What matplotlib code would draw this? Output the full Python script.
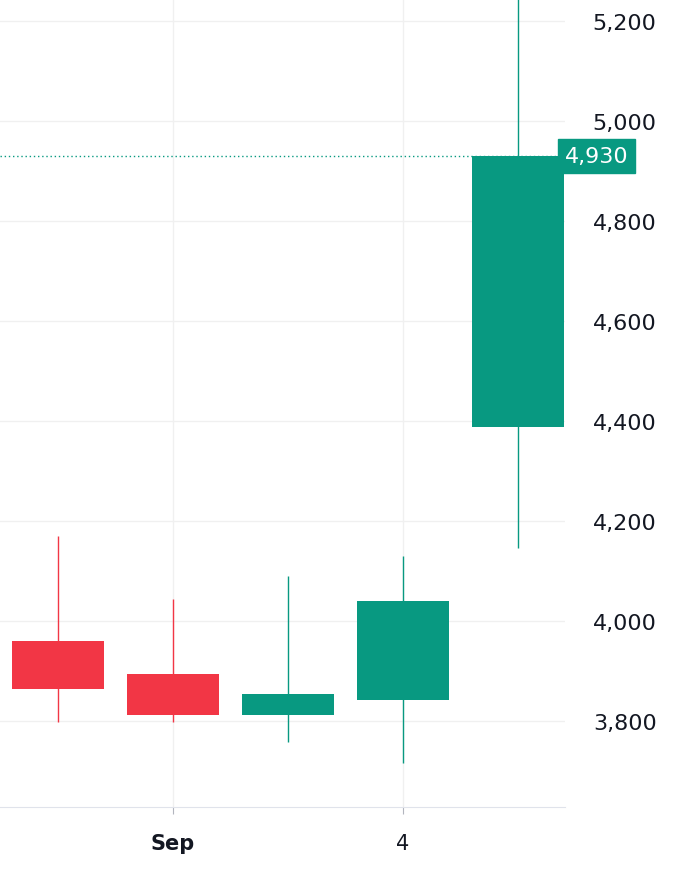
import matplotlib
matplotlib.use("Agg")
import matplotlib.pyplot as plt

opens  = [3960, 3894, 3812, 3842, 4388]
closes = [3864, 3812, 3854, 4040, 4930]
highs  = [4170, 4044, 4090, 4130, 5260]
lows   = [3798, 3798, 3758, 3716, 4146]
xticks = [1, 3]
xticklabels = ["Sep", "4"]
yticks = [3800, 4000, 4200, 4400, 4600, 4800, 5000, 5200]
last_price = 4930

UP, DOWN = "#089981", "#F23645"
fig = plt.figure(figsize=(6.95, 8.7), dpi=100)
ax = fig.add_axes([0, 870-808 and 62/870, 565/695, 808/870])
ax.set_xlim(-0.5, 4.41)
ax.set_ylim(3628, 5244)
for i, (o, c, h, l) in enumerate(zip(opens, closes, highs, lows)):
    col = UP if c >= o else DOWN
    ax.vlines(i, l, h, color=col, lw=1, zorder=2)
    ax.bar(i, abs(c-o), bottom=min(o, c), width=0.8, color=col, zorder=3)
for y in yticks:
    ax.axhline(y, color="#f0f0f0", lw=1, zorder=0)
for x in xticks:
    ax.axvline(x, color="#f0f0f0", lw=1, zorder=0)
ax.axhline(last_price, color=UP, lw=1, ls=(0, (1, 2)), zorder=1)
for s in ["top", "left", "right"]:
    ax.spines[s].set_visible(False)
ax.spines["bottom"].set_color("#e0e3eb")
ax.set_xticks(xticks)
ax.set_xticklabels(xticklabels, fontsize=15, color="#131722")
ax.get_xticklabels()[0].set_fontweight("bold")
ax.tick_params(axis="x", length=5, color="#b2b5be", pad=14)
ax.yaxis.tick_right()
ax.set_yticks(yticks)
ax.set_yticklabels([f"{v:,}" for v in yticks], fontsize=16, color="#131722")
ax.tick_params(axis="y", length=0, pad=20)
ax.text(1.0, last_price, f"{last_price:,}", transform=ax.get_yaxis_transform(),
        fontsize=16, color="white", va="center", ha="left",
        bbox=dict(boxstyle="square,pad=0.3", fc=UP, ec=UP))
fig.savefig("out.png", dpi=100, facecolor="white")
